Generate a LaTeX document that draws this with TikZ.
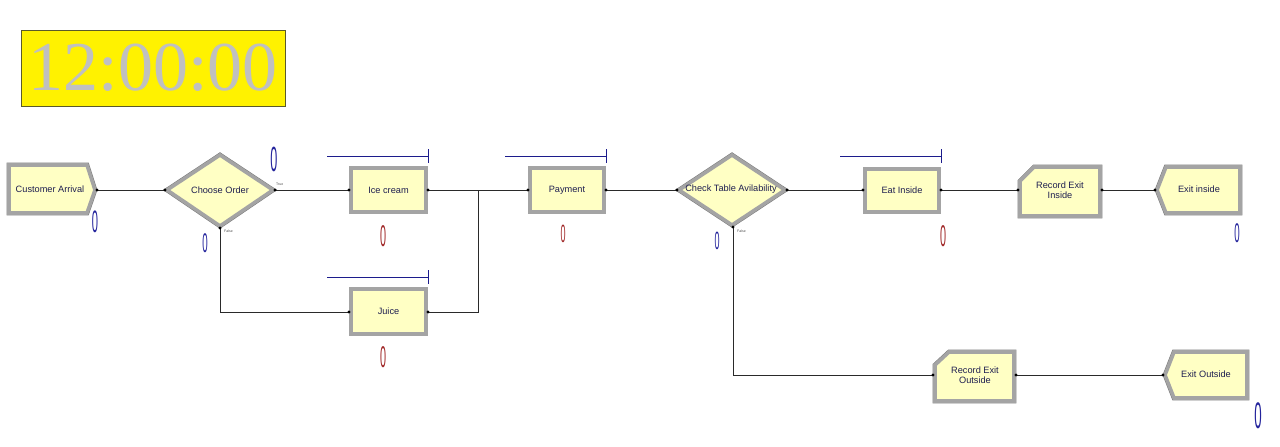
\documentclass[tikz,border=0pt]{standalone}
\usepackage{fontspec}
\setmainfont{Liberation Sans}
\setsansfont{Liberation Sans}
\newfontfamily\clockfont{Liberation Serif}
\definecolor{modfill}{HTML}{FFFFC4}
\definecolor{modframe}{HTML}{A4A4A4}
\definecolor{modedge}{HTML}{7A7A7A}
\definecolor{modtext}{HTML}{1E1E50}
\definecolor{qblue}{HTML}{1C1C8C}
\definecolor{cblue}{HTML}{24249C}
\definecolor{cred}{HTML}{A02828}
\definecolor{clockgray}{HTML}{C0C0C0}
\definecolor{clockedge}{HTML}{5A5A2A}
\definecolor{conn}{HTML}{2A2A2A}
\begin{document}
\begin{tikzpicture}[x=1pt,y=-1pt,
  modshape/.style={fill=modfill, draw=modframe, line width=3.6pt, preaction={draw=modedge, line width=4.6pt}},
  modbox/.style={rectangle, modshape, inner sep=0pt},
  modtext/.style={text=modtext, font=\fontsize{9.2}{10.2}\selectfont, align=center, inner sep=0pt},
  conline/.style={draw=conn, line width=0.9pt},
  queue/.style={draw=qblue, line width=0.9pt},
  counter/.style={font=\fontsize{#1}{#1}\selectfont, inner sep=0pt, xscale=0.36},
  tiny/.style={font=\fontsize{3.5}{4}\selectfont, text=black!70, inner sep=0pt, anchor=west}
]
\useasboundingbox (0,0) rectangle (1280,447);

% clock
\node[draw=clockedge, fill=yellow, line width=0.8pt, minimum width=264pt, minimum height=76pt, inner sep=0pt,
      text=clockgray, font=\clockfont\fontsize{70}{70}\selectfont] (clock) at (153,68) {12:00:00};

% Customer Arrival (create)
\path[modshape] (9,165) -- (87,165) -- (95,190) -- (87,213) -- (9,213) -- cycle;
\node[modtext] (arrival) at (50,189) {Customer Arrival};
\coordinate (arrivalOut) at (97,190);

% Choose Order (decide)
\path[modshape] (167,190) -- (220,155) -- (273,190) -- (220,226) -- cycle;
\node[modtext] (choose) at (220,190) {Choose Order};
\coordinate (chooseIn) at (165,190);
\coordinate (chooseT) at (275,190);
\coordinate (chooseF) at (220,228);
\node[tiny] (chooseTl) at (276,184) {True};
\node[tiny] (chooseFl) at (224,231) {False};

% Ice cream
\node[modbox, minimum width=75pt, minimum height=44pt] (ice) at (388.5,190) {};
\node[modtext] (iceT) at (ice) {Ice cream};
\coordinate (iceIn) at (349,190);
\coordinate (iceOut) at (428,190);
\draw[queue] (327,156) -- (428,156) (428,149) -- (428,163);

% Juice
\node[modbox, minimum width=75pt, minimum height=45pt] (juice) at (388.5,311.5) {};
\node[modtext] (juiceT) at (juice) {Juice};
\coordinate (juiceIn) at (349,312);
\coordinate (juiceOut) at (428,312);
\draw[queue] (327,277) -- (428,277) (428,270) -- (428,284);

% Payment
\node[modbox, minimum width=74pt, minimum height=44pt] (pay) at (567,190) {};
\node[modtext] (payT) at (pay) {Payment};
\coordinate (payIn) at (528,190);
\coordinate (payOut) at (606,190);
\draw[queue] (505,156) -- (606,156) (606,149) -- (606,163);
\coordinate (merge) at (478,190);

% Check Table Avilability (decide)
\path[modshape] (679,190) -- (732,155) -- (785,190) -- (732,225) -- cycle;
\node[modtext] (check) at (731,189) {Check Table Avilability};
\coordinate (checkIn) at (677,190);
\coordinate (checkT) at (787,190);
\coordinate (checkF) at (733,227);
\node[tiny] (checkFl) at (737,231) {False};

% Eat Inside
\node[modbox, minimum width=74pt, minimum height=43pt] (eat) at (902,190.5) {};
\node[modtext] (eatT) at (eat) {Eat Inside};
\coordinate (eatIn) at (863,190);
\coordinate (eatOut) at (941,190);
\draw[queue] (840,156) -- (941,156) (941,149) -- (941,163);

% Record Exit Inside
\path[modshape] (1020,181) -- (1034,167) -- (1100,167) -- (1100,216) -- (1020,216) -- cycle;
\node[modtext] (recin) at (1060,190) {Record Exit\\Inside};
\coordinate (recinIn) at (1018,190);
\coordinate (recinOut) at (1102,190);

% Exit inside (dispose)
\path[modshape] (1157,190) -- (1166,167) -- (1240,167) -- (1240,213) -- (1166,213) -- cycle;
\node[modtext] (exitin) at (1199,189) {Exit inside};
\coordinate (exitinIn) at (1155,190);

% Record Exit Outside
\path[modshape] (935,365) -- (949,352) -- (1014,352) -- (1014,401) -- (935,401) -- cycle;
\node[modtext] (recout) at (975,375) {Record Exit\\Outside};
\coordinate (recoutIn) at (933,375);
\coordinate (recoutOut) at (1016,375);

% Exit Outside (dispose)
\path[modshape] (1165,375) -- (1174,352) -- (1247,352) -- (1247,398) -- (1174,398) -- cycle;
\node[modtext] (exitout) at (1206,374) {Exit Outside};
\coordinate (exitoutIn) at (1163,375);

% connectors
\draw[conline] (arrivalOut) -- (chooseIn);
\draw[conline] (chooseT) -- (iceIn);
\draw[conline] (chooseF) |- (juiceIn);
\draw[conline] (iceOut) -- (payIn);
\draw[conline] (juiceOut) -| (merge);
\draw[conline] (payOut) -- (checkIn);
\draw[conline] (checkT) -- (eatIn);
\draw[conline] (checkF) |- (recoutIn);
\draw[conline] (eatOut) -- (recinIn);
\draw[conline] (recinOut) -- (exitinIn);
\draw[conline] (recoutOut) -- (exitoutIn);
\foreach \p in {arrivalOut,chooseIn,chooseT,chooseF,iceIn,iceOut,juiceIn,juiceOut,payIn,payOut,checkIn,checkT,checkF,eatIn,eatOut,recinIn,recinOut,exitinIn,recoutIn,recoutOut,exitoutIn}
  \fill[black] (\p) circle (1.6pt);

% counters
\node[counter=31, text=cblue] (c1) at (95,222) {0};
\node[counter=35, text=cblue] (c2) at (274,159) {0};
\node[counter=27, text=cblue] (c3) at (205,243) {0};
\node[counter=30, text=cred] (c4) at (383,236) {0};
\node[counter=25, text=cred] (c5) at (563,234) {0};
\node[counter=25, text=cblue] (c6) at (717,241) {0};
\node[counter=30, text=cred] (c7) at (943,236) {0};
\node[counter=27, text=cblue] (c8) at (1237,233) {0};
\node[counter=30, text=cred] (c9) at (383,357) {0};
\node[counter=37, text=cblue] (c10) at (1258,416) {0};
\end{tikzpicture}
\end{document}
